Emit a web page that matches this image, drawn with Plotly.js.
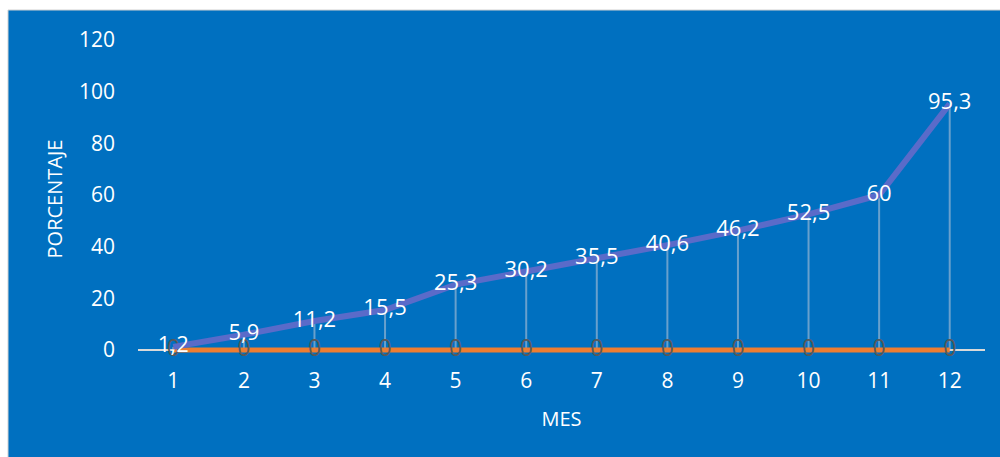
<!DOCTYPE html>
<html>
<head>
<meta charset="utf-8">
<script src="https://cdn.plot.ly/plotly-3.0.1.min.js"></script>
<style>html,body{margin:0;padding:0;background:#fff;}#chart{width:1000px;height:457px;}</style>
</head>
<body>
<div id="chart"></div>
<script>
const meses = [1,2,3,4,5,6,7,8,9,10,11,12];
const porcentaje = [1.2,5.9,11.2,15.5,25.3,30.2,35.5,40.6,46.2,52.5,60,95.3];
const serie2 = [0,0,0,0,0,0,0,0,0,0,0,0];
const yTicks = [0,20,40,60,80,100,120];

const fmt = v => String(v).replace('.', ',');

const dropX = [], dropY = [];
meses.forEach((m,i) => { dropX.push(m, m, null); dropY.push(porcentaje[i], 0, null); });

const FONT = 'Open Sans, sans-serif';

const traces = [
  {x: dropX, y: dropY, mode: 'lines', line: {color: 'rgba(190,200,215,0.55)', width: 2}, hoverinfo: 'skip', showlegend: false},
  {x: meses, y: serie2, mode: 'lines+text', text: serie2.map(fmt), textposition: 'middle center', cliponaxis: false,
   textfont: {color: '#595959', size: 23, family: FONT}, line: {color: '#ED7D31', width: 5}, showlegend: false},
  {x: meses, y: porcentaje, mode: 'lines+text', text: porcentaje.map(fmt), textposition: 'middle center', cliponaxis: false,
   textfont: {color: '#FFFFFF', size: 22, family: FONT}, line: {color: '#5A6BC9', width: 6}, showlegend: false}
];

const layout = {
  width: 1000, height: 457,
  margin: {l: 138, r: 15, t: 40, b: 99},
  paper_bgcolor: '#FFFFFF',
  plot_bgcolor: 'rgba(0,0,0,0)',
  font: {family: FONT, color: '#FFFFFF', size: 20},
  showlegend: false,
  shapes: [{type: 'rect', xref: 'paper', yref: 'paper', layer: 'below',
    x0: -0.15348, x1: 1.02, y0: -0.33, y1: 1.0943,
    fillcolor: '#0070C0', line: {color: '#D0D0D0', width: 1}}],
  xaxis: {
    range: [0.5, 12.5], tickvals: meses, ticktext: meses.map(String),
    showgrid: false, zeroline: false, showline: false,
    ticks: '', ticklabelstandoff: 8,
    tickfont: {color: '#FFFFFF', size: 21, family: FONT},
    title: {text: 'MES', font: {color: '#FFFFFF', size: 20, family: FONT}, standoff: 18}
  },
  yaxis: {
    range: [-3.097, 120], tickvals: yTicks, ticktext: yTicks.map(String),
    showgrid: false, zeroline: true, zerolinecolor: '#D9D9D9', zerolinewidth: 2,
    showline: false, ticks: '', ticklabelstandoff: 22,
    tickfont: {color: '#FFFFFF', size: 21, family: FONT},
    title: {text: 'PORCENTAJE', font: {color: '#FFFFFF', size: 20, family: FONT}, standoff: 10}
  }
};

Plotly.newPlot('chart', traces, layout, {displayModeBar: false, staticPlot: true});
</script>
</body>
</html>
